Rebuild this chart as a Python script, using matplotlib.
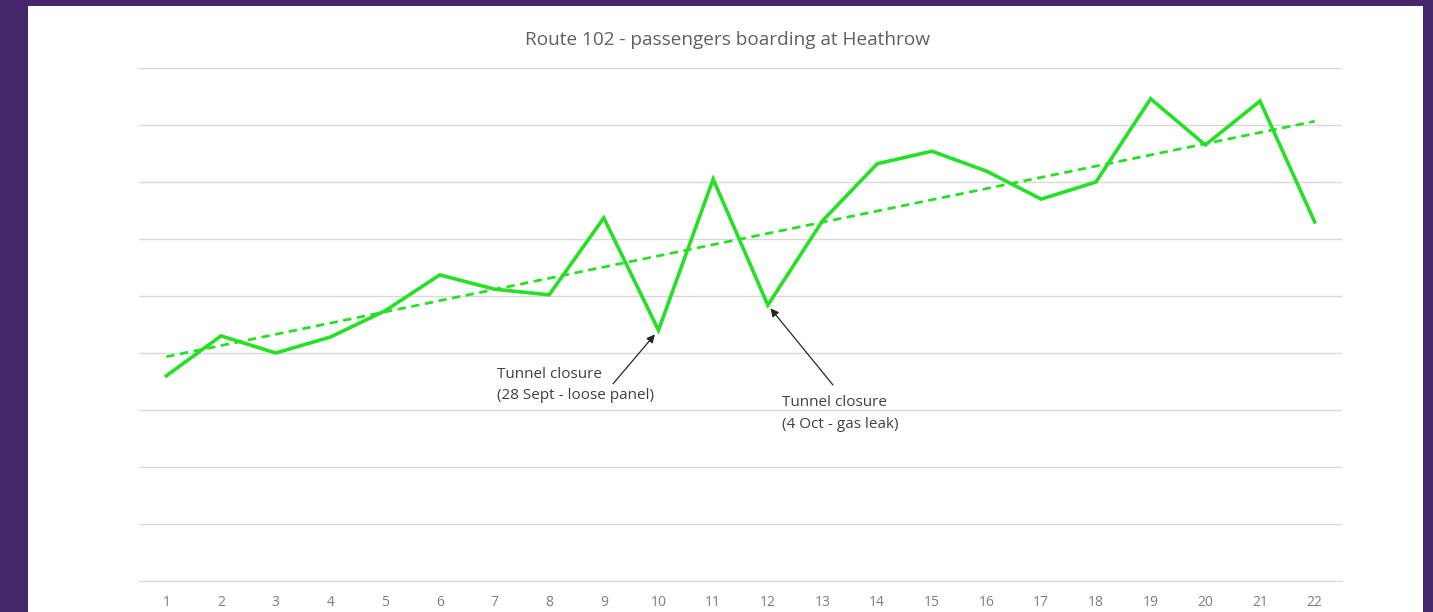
import numpy as np
import matplotlib
matplotlib.use("Agg")
import matplotlib.pyplot as plt
from matplotlib.patches import Rectangle

plt.rcParams['font.family'] = ['Open Sans', 'DejaVu Sans']

# data (units = gridline steps, axis has no value labels)
weeks = list(range(1, 23))
boarding = [3.60, 4.30, 4.00, 4.28, 4.74, 5.37, 5.12, 5.02, 6.37, 4.40, 7.05,
            4.84, 6.32, 7.32, 7.54, 7.19, 6.70, 7.00, 8.46, 7.65, 8.42, 6.30]
title = "Route 102 - passengers boarding at Heathrow"
note1 = "Tunnel closure\n(28 Sept - loose panel)"
note2 = "Tunnel closure\n(4 Oct - gas leak)"

green = '#26e026'
purple = '#46266b'

fig = plt.figure(figsize=(14.33, 6.12), dpi=100)
fig.patch.set_facecolor(purple)
fig.patches.append(Rectangle((28 / 1433, 0), (1423 - 28) / 1433, 1 - 6 / 612,
                             transform=fig.transFigure, facecolor='white',
                             edgecolor='none', zorder=-10))

ax = fig.add_axes([139 / 1433, 1 - 581 / 612, (1342 - 139) / 1433, (581 - 68) / 612])
ax.set_facecolor('none')

ax.plot(weeks, boarding, color=green, lw=2.6, solid_joinstyle='miter', zorder=3)

# linear trendline
k, b = np.polyfit(weeks, boarding, 1)
trend = [k * w + b for w in weeks]
ax.plot(weeks, trend, color=green, lw=2.0, ls=(0, (3, 2)), zorder=2)

ax.set_xlim(0.5, 22.5)
ax.set_ylim(0, 9)
ax.set_xticks(weeks)
ax.set_xticklabels([str(w) for w in weeks])
ax.set_yticks(range(0, 10))
ax.set_yticklabels([])
ax.grid(axis='y', color='#d9d9d9', lw=1)
ax.set_axisbelow(True)
for s in ['left', 'right', 'top']:
    ax.spines[s].set_visible(False)
ax.spines['bottom'].set_color('#d9d9d9')
ax.tick_params(axis='x', length=0, labelsize=10, labelcolor='#7f7f7f', pad=10)
ax.tick_params(axis='y', length=0)

fig.text(727 / 1433, 1 - 40 / 612, title, ha='center', va='center',
         fontsize=13.7, color='#606060')

# annotations
ax.annotate('', xy=(10, boarding[9]), xytext=(9.17, 3.46),
            arrowprops=dict(arrowstyle='-|>', color='#262626', lw=0.9,
                            shrinkA=0, shrinkB=4, mutation_scale=12))
ax.text(7.05, 3.76, note1, ha='left', va='top', fontsize=11,
        color='#404040', linespacing=1.6)
ax.annotate('', xy=(12, boarding[11]), xytext=(13.19, 3.44),
            arrowprops=dict(arrowstyle='-|>', color='#262626', lw=0.9,
                            shrinkA=0, shrinkB=3, mutation_scale=12))
ax.text(12.26, 3.26, note2, ha='left', va='top', fontsize=11,
        color='#404040', linespacing=1.6)

fig.savefig('out.png', dpi=100, facecolor=fig.get_facecolor())
